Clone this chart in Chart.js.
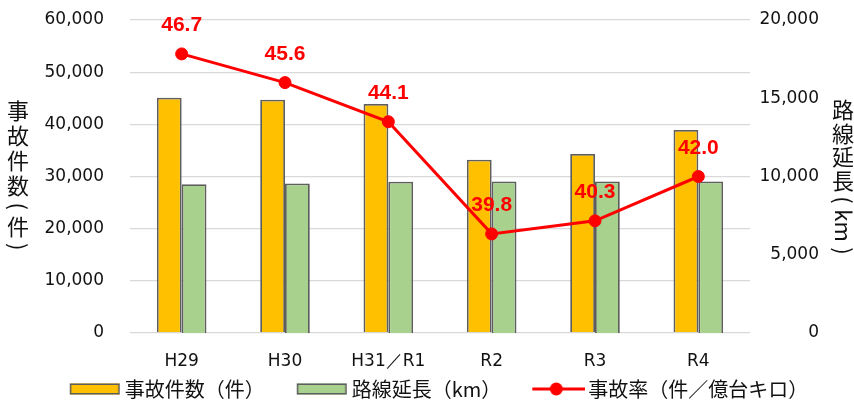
<!DOCTYPE html>
<html>
<head>
<meta charset="utf-8">
<script src="https://cdn.jsdelivr.net/npm/chart.js@4/dist/chart.umd.min.js"></script>
<style>
  html, body { margin: 0; padding: 0; background: #fff; }
  #wrap { width: 854px; height: 400px; position: relative; }
  canvas { display: block; }
</style>
</head>
<body>
<div id="wrap"><canvas id="chart" width="854" height="400"></canvas></div>
<script>
// Fiscal years
const years = ['H29', 'H30', 'H31／R1', 'R2', 'R3', 'R4'];
// 事故件数（件）
const accidentCounts = [45100, 44700, 43900, 33200, 34300, 38900];
// 路線延長（km）
const routeLengthKm = [9510, 9550, 9660, 9680, 9680, 9680];
// 事故率（件/億台キロ）
const accidentRates = [46.7, 45.6, 44.1, 39.8, 40.3, 42.0];

// Axis tick values
const countTicks = [0, 10000, 20000, 30000, 40000, 50000, 60000];
const kmTicks = [0, 5000, 10000, 15000, 20000];

const legendLabels = ['事故件数（件）', '路線延長（km）', '事故率（件／億台キロ）'];

const ORANGE = '#FFC000';
const GREEN = '#A9D18E';
const RED = '#FF0000';
const EDGE = '#5E5E5E';
const JP = "'Noto Sans CJK JP', 'Noto Sans', sans-serif";
const NUM = "'DejaVu Sans', sans-serif";

// Legend markers: a framed swatch for the bars, a line with a dot for the rate.
// The image is centred on the marker slot; the drawing sits at its right end,
// next to the label text.
function makeMarker(kind, fill) {
  const c = document.createElement('canvas');
  c.width = 87; c.height = 16;
  const g = c.getContext('2d');
  if (kind === 'line') {
    g.strokeStyle = RED; g.lineWidth = 3;
    g.beginPath(); g.moveTo(34, 8); g.lineTo(87, 8); g.stroke();
    g.fillStyle = RED;
    g.beginPath(); g.arc(58, 8, 6.5, 0, Math.PI * 2); g.fill();
  } else {
    g.fillStyle = fill;
    g.fillRect(35, 2.5, 50, 11);
    g.strokeStyle = EDGE; g.lineWidth = 1.5;
    g.strokeRect(35.75, 3.25, 48.5, 9.5);
  }
  return c;
}
const markers = [makeMarker('bar', ORANGE), makeMarker('bar', GREEN), makeMarker('line')];

// Value labels above the rate points
const rateLabels = {
  id: 'rateLabels',
  afterDatasetsDraw(chart) {
    const meta = chart.getDatasetMeta(2);
    const ctx = chart.ctx;
    ctx.save();
    ctx.font = "bold 21px 'Liberation Sans', Arial, sans-serif";
    ctx.fillStyle = RED;
    ctx.textAlign = 'center';
    ctx.textBaseline = 'alphabetic';
    meta.data.forEach((pt, i) => {
      ctx.fillText(accidentRates[i].toFixed(1), pt.x, pt.y - 23);
    });
    ctx.restore();
  }
};

// Axis titles set in vertical writing
const leftTitle = [{t: '事'}, {t: '故'}, {t: '件'}, {t: '数'}, {t: '(', r: true}, {t: '件'}, {t: ')', r: true}];
const rightTitle = [{t: '路'}, {t: '線'}, {t: '延'}, {t: '長'}, {t: '(', r: true}, {t: 'km', r: true}, {t: ')', r: true}];

function drawVertical(ctx, segs, x, mid, pitch) {
  ctx.save();
  ctx.font = '22px ' + JP;
  ctx.fillStyle = '#111';
  ctx.textAlign = 'center';
  ctx.textBaseline = 'middle';
  const adv = segs.map(s => s.r ? ctx.measureText(s.t).width + (s.t.length === 1 ? 8 : 3) : pitch);
  const total = adv.reduce((a, b) => a + b, 0);
  let y = mid - total / 2;
  segs.forEach((s, i) => {
    const cy = y + adv[i] / 2;
    if (s.r) {
      ctx.save();
      ctx.translate(x, cy);
      ctx.rotate(Math.PI / 2);
      ctx.fillText(s.t, 0, 0);
      ctx.restore();
    } else {
      ctx.fillText(s.t, x, cy);
    }
    y += adv[i];
  });
  ctx.restore();
}

const axisTitles = {
  id: 'axisTitles',
  afterDraw(chart) {
    const a = chart.chartArea;
    const mid = (a.top + a.bottom) / 2;
    drawVertical(chart.ctx, leftTitle, 18, mid, 25);
    drawVertical(chart.ctx, rightTitle, 843, mid + 2, 23.5);
  }
};

new Chart(document.getElementById('chart'), {
  type: 'bar',
  data: {
    labels: years,
    datasets: [
      {
        label: legendLabels[0],
        data: accidentCounts,
        yAxisID: 'yCount',
        backgroundColor: ORANGE,
        borderColor: EDGE,
        borderWidth: 1.8,
        order: 1
      },
      {
        label: legendLabels[1],
        data: routeLengthKm,
        yAxisID: 'yKm',
        backgroundColor: GREEN,
        borderColor: EDGE,
        borderWidth: 1.8,
        order: 2
      },
      {
        type: 'line',
        label: legendLabels[2],
        data: accidentRates,
        yAxisID: 'yRate',
        borderColor: RED,
        backgroundColor: RED,
        borderWidth: 3,
        pointRadius: 6,
        pointBorderWidth: 1,
        pointBackgroundColor: RED,
        tension: 0,
        order: 0
      }
    ]
  },
  options: {
    responsive: false,
    animation: false,
    devicePixelRatio: 1,
    layout: { padding: { top: 20, bottom: -9, left: 31, right: 35 } },
    datasets: { bar: { categoryPercentage: 0.48, barPercentage: 1.0 } },
    scales: {
      x: {
        grid: { display: false },
        border: { display: false },
        ticks: { font: { family: NUM, size: 17 }, color: '#111', padding: 10, maxRotation: 0 },
        afterFit(s) { s.height = 42; }
      },
      yCount: {
        position: 'left',
        min: 0, max: 60000,
        afterBuildTicks(s) { s.ticks = countTicks.map(v => ({ value: v })); },
        grid: { color: '#D9D9D9', lineWidth: 1.3, drawTicks: true, tickLength: 26, tickColor: 'rgba(0,0,0,0)' },
        border: { display: false },
        ticks: { font: { family: NUM, size: 17 }, color: '#111', padding: 0 },
        afterFit(s) { s.width = 99; }
      },
      yKm: {
        position: 'right',
        min: 0, max: 20000,
        afterBuildTicks(s) { s.ticks = kmTicks.map(v => ({ value: v })); },
        grid: { display: false },
        border: { display: false },
        ticks: { font: { family: NUM, size: 17 }, color: '#111', padding: 0, crossAlign: 'far' },
        afterFit(s) { s.width = 69; }
      },
      yRate: {
        display: false,
        min: 36, max: 48
      }
    },
    plugins: {
      tooltip: { enabled: false },
      legend: {
        position: 'bottom',
        labels: {
          usePointStyle: true,
          pointStyleWidth: 73,
          padding: 4,
          color: '#111',
          font: { family: JP, size: 20 },
          sort: (a, b) => a.datasetIndex - b.datasetIndex,
          generateLabels(chart) {
            const items = Chart.defaults.plugins.legend.labels.generateLabels(chart);
            items.forEach(it => { it.pointStyle = markers[it.datasetIndex]; });
            return items;
          }
        }
      }
    }
  },
  plugins: [rateLabels, axisTitles]
});
</script>
</body>
</html>
